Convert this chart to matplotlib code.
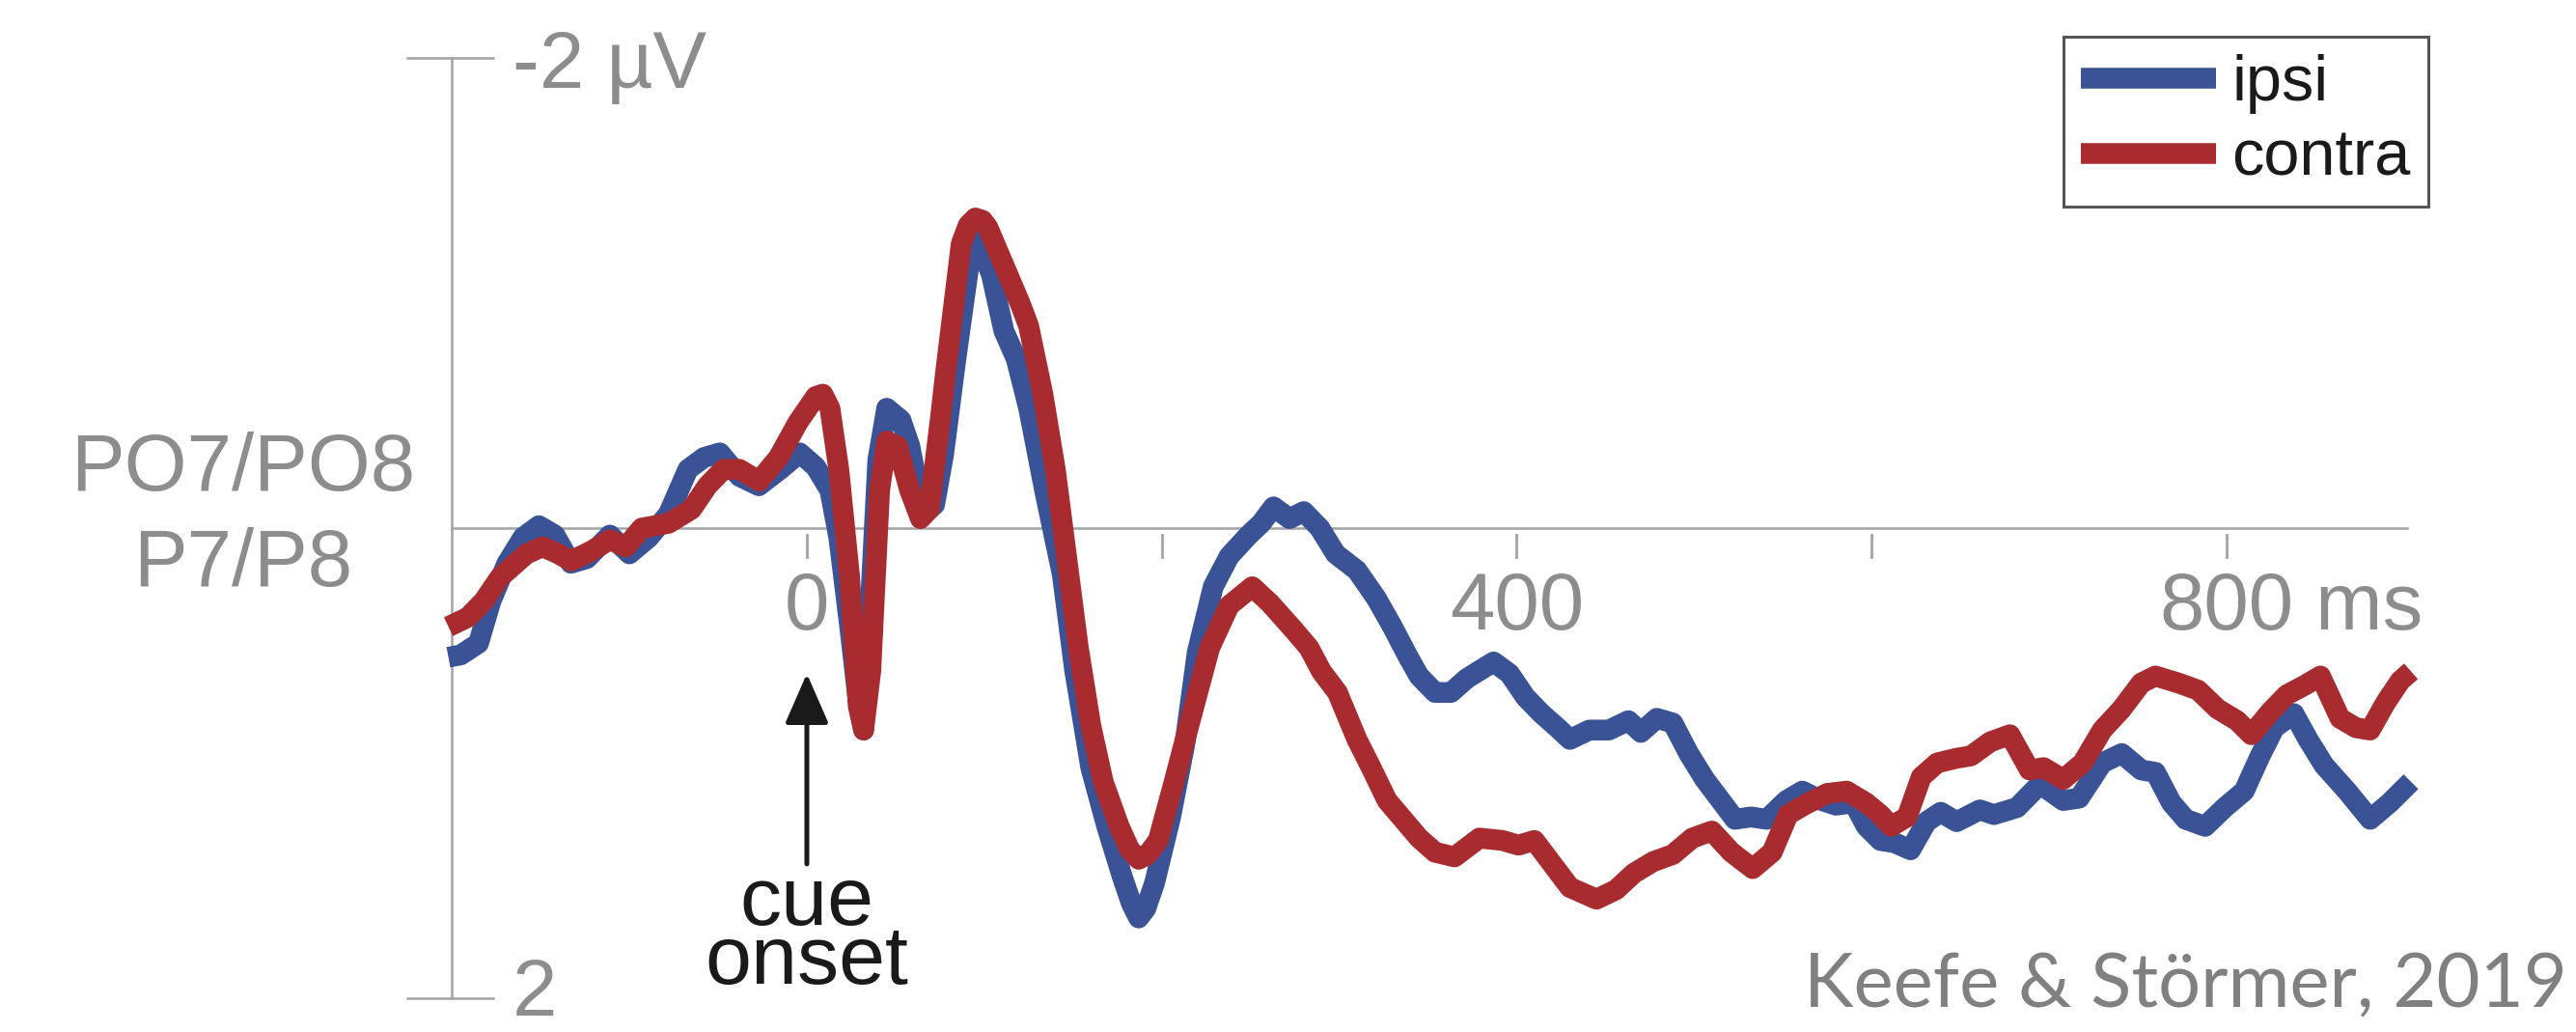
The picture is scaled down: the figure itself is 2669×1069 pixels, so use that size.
import matplotlib
matplotlib.use("Agg")
import matplotlib.pyplot as plt

# ERP time course (ms) and amplitude (microvolts), negative plotted up
ipsi_ms = [-202, -195, -185, -178, -169, -160, -151, -142, -133, -124, -111, -100,
           -89, -78, -67, -58, -49, -38, -27, -15, -4, 5, 13, 18, 24, 29, 32, 35,
           40, 45, 53, 58, 64, 69, 72, 77, 84, 91, 96, 104, 111, 118, 125, 134,
           144, 151, 160, 169, 178, 183, 187, 191, 196, 205, 213, 220, 229, 238, 249, 256,
           263, 272, 280, 289, 298, 310, 321, 330, 339, 345, 354, 363, 372, 387,
           396, 405, 414, 423, 430, 441, 452, 463, 470, 479, 488, 497, 506, 515,
           523, 532, 541, 552, 561, 572, 580, 590, 597, 605, 613, 622, 631, 639,
           648, 661, 669, 682, 695, 708, 717, 730, 741, 752, 760, 769, 777, 788,
           799, 810, 819, 827, 838, 846, 855, 868, 881, 892, 904]
ipsi_uv = [0.55, 0.54, 0.49, 0.31, 0.15, 0.04, -0.01, 0.03, 0.15, 0.13, 0.03, 0.11,
           0.04, -0.06, -0.25, -0.30, -0.32, -0.22, -0.18, -0.25, -0.32, -0.26, -0.16, 0.04,
           0.41, 0.74, 0.86, 0.45, -0.29, -0.51, -0.46, -0.35, -0.12, -0.08, -0.10, -0.31,
           -0.72, -1.10, -1.23, -1.08, -0.84, -0.72, -0.51, -0.16, 0.20, 0.61, 1.02, 1.27,
           1.49, 1.60, 1.66, 1.62, 1.51, 1.23, 0.92, 0.53, 0.25, 0.12, 0.03, -0.02, -0.09, -0.04,
           -0.07, 0.00, 0.11, 0.18, 0.30, 0.42, 0.55, 0.63, 0.70, 0.70, 0.64, 0.57,
           0.62, 0.72, 0.79, 0.85, 0.90, 0.86, 0.86, 0.82, 0.87, 0.81, 0.83, 0.96,
           1.07, 1.16, 1.24, 1.23, 1.24, 1.16, 1.12, 1.16, 1.18, 1.17, 1.27, 1.33,
           1.34, 1.37, 1.25, 1.21, 1.25, 1.20, 1.22, 1.19, 1.09, 1.16, 1.15, 1.00,
           0.96, 1.03, 1.04, 1.17, 1.24, 1.27, 1.19, 1.12, 0.97, 0.85, 0.79, 0.90,
           1.01, 1.12, 1.24, 1.17, 1.08]

contra_ms = [-202, -191, -182, -173, -158, -149, -140, -133, -122, -111, -102, -93,
             -78, -65, -56, -47, -38, -27, -16, -5, 5, 9, 13, 18, 24, 29, 32, 36,
             41, 45, 51, 58, 64, 69, 75, 78, 82, 87, 91, 95, 99, 102, 111, 120, 125, 133,
             140, 147, 153, 160, 167, 176, 182, 187, 192, 198, 207, 216, 227, 238, 251, 261,
             274, 283, 290, 299, 310, 318, 327, 336, 345, 354, 365, 372, 379, 392,
             401, 410, 419, 430, 445, 456, 466, 477, 488, 499, 510, 521, 533, 544,
             553, 562, 575, 586, 597, 605, 611, 620, 628, 637, 648, 656, 667, 678,
             689, 697, 708, 719, 730, 741, 752, 760, 773, 784, 795, 806, 814, 825,
             834, 844, 853, 864, 873, 881, 890, 898, 904]
contra_uv = [0.42, 0.38, 0.31, 0.21, 0.11, 0.08, 0.11, 0.14, 0.10, 0.05, 0.08, 0.00,
             -0.02, -0.08, -0.18, -0.25, -0.25, -0.20, -0.30, -0.45, -0.56, -0.57, -0.51, -0.25,
             0.20, 0.76, 0.86, 0.61, -0.16, -0.37, -0.35, -0.16, -0.04, -0.08, -0.45, -0.65,
             -0.90, -1.21, -1.29, -1.32, -1.31, -1.28, -1.12, -0.96, -0.86, -0.57, -0.25, 0.16, 0.51, 0.84,
             1.08, 1.27, 1.37, 1.41, 1.39, 1.33, 1.08, 0.82, 0.51, 0.33, 0.25, 0.32, 0.43, 0.51,
             0.61, 0.70, 0.90, 1.02, 1.16, 1.24, 1.32, 1.38, 1.40, 1.36, 1.32, 1.33,
             1.35, 1.33, 1.42, 1.53, 1.58, 1.54, 1.47, 1.42, 1.39, 1.32, 1.29, 1.38,
             1.45, 1.38, 1.22, 1.18, 1.13, 1.12, 1.17, 1.22, 1.27, 1.23, 1.06, 1.00,
             0.98, 0.97, 0.91, 0.88, 1.03, 1.02, 1.07, 1.00, 0.86, 0.77, 0.66, 0.63,
             0.66, 0.69, 0.77, 0.82, 0.88, 0.78, 0.71, 0.67, 0.63, 0.81, 0.85, 0.86,
             0.74, 0.65, 0.61]

x_ticks = [0, 200, 400, 600, 800]
x_labels = {0: "0", 400: "400", 800: "800"}
y_range = [-2, 2]
t_start, t_end = -200, 902

BLUE = "#3a5396"
RED = "#a82c2f"
GRAY = "#8c8d8c"
AXIS_GRAY = "#a3a3a3"
INK = "#1a1a1a"

fig = plt.figure(figsize=(26.69, 10.69), dpi=100)
ax = fig.add_axes([0, 0, 1, 1])
ax.set_xlim(-454.7, 997.0)
ax.set_ylim(2.1455, -2.248)
ax.axis("off")

# scale bar style axes
ax.plot([t_start, t_start], y_range, color=AXIS_GRAY, lw=1.8)
for yv in y_range:
    ax.plot([t_start - 25, t_start + 23], [yv, yv], color=AXIS_GRAY, lw=1.8)
ax.plot([t_start, t_end], [0, 0], color=AXIS_GRAY, lw=1.8)
for xt in x_ticks:
    ax.plot([xt, xt], [0.03, 0.125], color=AXIS_GRAY, lw=2.0)

lab = dict(color=GRAY, fontsize=60, family="Liberation Sans")
for xt, s in x_labels.items():
    t = ax.text(xt, 0.43, s, ha="center", va="baseline", **lab)
ax.annotate(" ms", xy=(1, 0), xycoords=t, ha="left", va="bottom", **lab)
ax.text(-166, -1.874, "-2 \u00b5V", ha="left", va="baseline", **lab)
ax.text(-166, 2.075, "2", ha="left", va="baseline", **lab)
ax.text(-318, -0.16, "PO7/PO8", ha="center", va="baseline", **lab)
ax.text(-318, 0.247, "P7/P8", ha="center", va="baseline", **lab)

# the two waveforms
l1, = ax.plot(ipsi_ms, ipsi_uv, color=BLUE, lw=15.5, solid_joinstyle="round",
              solid_capstyle="butt", label="ipsi")
l2, = ax.plot(contra_ms, contra_uv, color=RED, lw=15.5, solid_joinstyle="round",
              solid_capstyle="butt", label="contra")

# cue onset marker
ax.annotate("", xy=(0, 0.62), xytext=(0, 1.43),
            arrowprops=dict(arrowstyle="-|>,head_length=1.6,head_width=0.7",
                            mutation_scale=20, lw=3.6, color=INK,
                            shrinkA=0, shrinkB=0))
ax.text(0, 1.94, "cue\nonset", color=INK, fontsize=62, family="Liberation Sans",
        ha="center", va="baseline", multialignment="center", linespacing=0.7)

leg = ax.legend(handles=[l1, l2], loc="upper left", bbox_to_anchor=(0.801, 0.9645),
                borderaxespad=0, handlelength=2.1, handletextpad=0.25,
                borderpad=0.27, labelspacing=0.24, fancybox=False, framealpha=1,
                prop={"family": "Liberation Sans", "size": 48})
leg.get_frame().set_edgecolor("#555555")
leg.get_frame().set_linewidth(2.2)
for txt in leg.get_texts():
    txt.set_color(INK)

ax.text(0.9966, 0.0243, "Keefe & St\u00f6rmer, 2019", transform=ax.transAxes,
        ha="right", va="baseline", color="#808080", fontsize=56, family="Lato")

fig.savefig("out.png", dpi=100)
